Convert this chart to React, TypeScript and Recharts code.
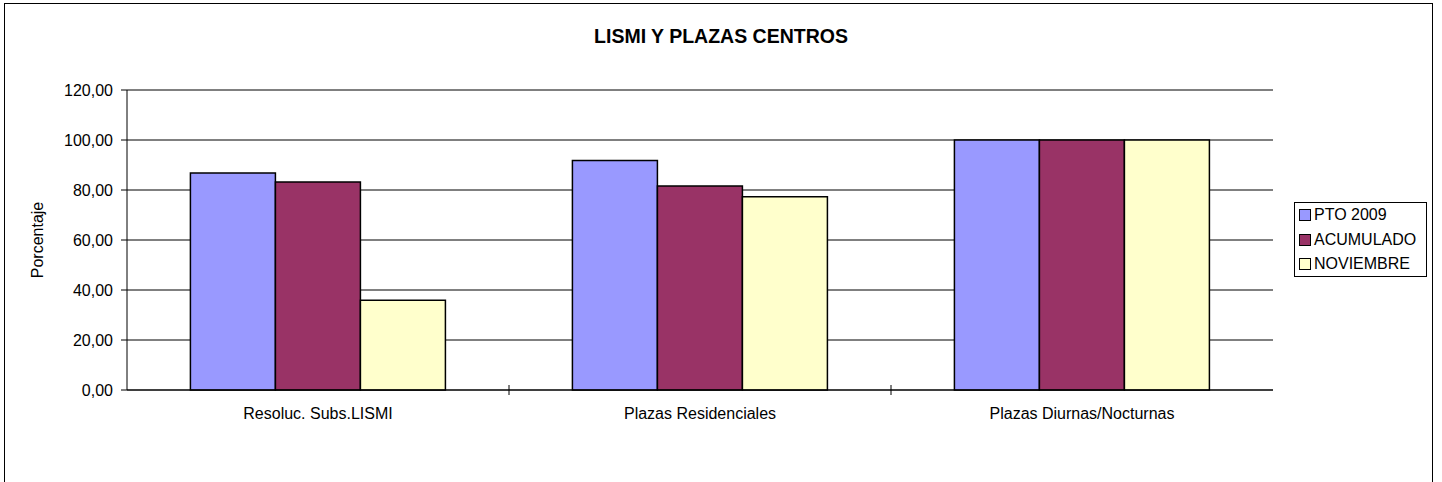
import { FC } from "react";
import {
  BarChart,
  Bar,
  XAxis,
  YAxis,
  CartesianGrid,
} from "recharts";

const categories = [
  "Resoluc. Subs.LISMI",
  "Plazas Residenciales",
  "Plazas Diurnas/Nocturnas",
];
const pto2009 = [86.8, 91.8, 100];
const acumulado = [83.2, 81.6, 100];
const noviembre = [35.9, 77.3, 100];
const yTicks = [0, 20, 40, 60, 80, 100, 120];

const series = [
  { key: "pto", name: "PTO 2009", color: "#9999FF", values: pto2009 },
  { key: "acum", name: "ACUMULADO", color: "#993366", values: acumulado },
  { key: "nov", name: "NOVIEMBRE", color: "#FFFFCC", values: noviembre },
];

const data = categories.map((name, i) => {
  const row: Record<string, string | number> = { name };
  series.forEach((s) => {
    row[s.key] = s.values[i];
  });
  return row;
});

const FONT = "Arial, 'Liberation Sans', sans-serif";
const CHART_W = 1442;
const CHART_H = 482;
const MARGIN = { top: 90, right: 169, bottom: 52, left: 0 };
const Y_AXIS_W = 127;
const PLOT_W = CHART_W - MARGIN.left - MARGIN.right - Y_AXIS_W;
const TICK_OFFSET = 18;

const formatPct = (v: number) => v.toFixed(2).replace(".", ",");

const CategoryTick: FC<any> = ({ x, y, payload, index }) => {
  const band = PLOT_W / categories.length;
  const axisY = y - TICK_OFFSET;
  return (
    <g>
      <text
        x={x}
        y={y}
        dy="0.71em"
        textAnchor="middle"
        fill="#000"
        fontSize={16}
        fontFamily={FONT}
      >
        {payload.value}
      </text>
      {index < categories.length - 1 && (
        <line
          x1={x + band / 2}
          x2={x + band / 2}
          y1={axisY - 5}
          y2={axisY + 5}
          stroke="#000"
        />
      )}
    </g>
  );
};

const YLabel: FC<any> = ({ viewBox }) => {
  const cx = viewBox.x + 37;
  const cy = viewBox.y + viewBox.height / 2;
  return (
    <text
      x={cx}
      y={cy}
      transform={`rotate(-90, ${cx}, ${cy})`}
      textAnchor="middle"
      dominantBaseline="central"
      fontSize={16}
      fontFamily={FONT}
      fill="#000"
    >
      Porcentaje
    </text>
  );
};

const App: FC = () => {
  return (
    <div
      style={{
        position: "fixed",
        left: 0,
        top: 0,
        width: CHART_W,
        height: CHART_H,
        overflow: "hidden",
        background: "#fff",
        fontFamily: FONT,
      }}
    >
      <div
        style={{
          position: "absolute",
          left: 4,
          top: 3,
          width: 1429,
          height: 520,
          border: "1px solid #000",
          boxSizing: "border-box",
        }}
      />
      <div
        style={{
          position: "absolute",
          left: 0,
          width: CHART_W,
          top: 26,
          textAlign: "center",
          fontSize: 19.5,
          lineHeight: "20px",
          fontWeight: "bold",
          color: "#000",
        }}
      >
        LISMI Y PLAZAS CENTROS
      </div>
      <div style={{ position: "absolute", left: 0, top: 0 }}>
        <BarChart
          width={CHART_W}
          height={CHART_H}
          data={data}
          margin={MARGIN}
          barCategoryGap="16.6%"
          barGap={0}
        >
          <CartesianGrid vertical={false} stroke="#000" />
          <XAxis
            dataKey="name"
            height={40}
            axisLine={{ stroke: "#000" }}
            tickLine={false}
            tickSize={6}
            tickMargin={12}
            tick={<CategoryTick />}
            interval={0}
          />
          <YAxis
            width={Y_AXIS_W}
            domain={[0, 120]}
            ticks={yTicks}
            tickFormatter={formatPct}
            axisLine={{ stroke: "#000" }}
            tickLine={{ stroke: "#000" }}
            tickSize={6}
            tickMargin={8}
            tick={{ fill: "#000", fontSize: 16, fontFamily: FONT }}
            label={<YLabel />}
          />
          <YAxis
            yAxisId="frame"
            orientation="right"
            width={0}
            tick={false}
            tickLine={false}
            axisLine={{ stroke: "#000" }}
          />
          {series.map((s) => (
            <Bar
              key={s.key}
              dataKey={s.key}
              name={s.name}
              fill={s.color}
              stroke="#000"
              strokeWidth={1.5}
              isAnimationActive={false}
            />
          ))}
        </BarChart>
      </div>
      <div
        style={{
          position: "absolute",
          left: 1294,
          top: 202,
          width: 133,
          height: 75,
          border: "1px solid #000",
          boxSizing: "border-box",
          background: "#fff",
        }}
      >
        {series.map((s) => (
          <div
            key={s.key}
            style={{
              height: 24.5,
              display: "flex",
              alignItems: "center",
              paddingLeft: 4,
              fontSize: 16,
              color: "#000",
              whiteSpace: "nowrap",
            }}
          >
            <span
              style={{
                display: "inline-block",
                width: 10,
                height: 10,
                border: "1px solid #000",
                background: s.color,
                marginRight: 3,
              }}
            />
            {s.name}
          </div>
        ))}
      </div>
    </div>
  );
};

export default App;
